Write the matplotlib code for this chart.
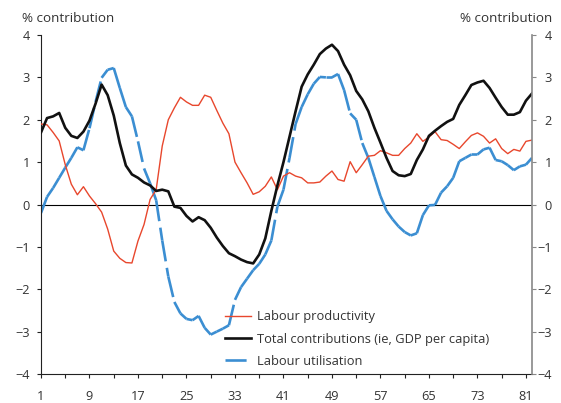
import numpy as np
import matplotlib
matplotlib.use('Agg')
import matplotlib.pyplot as plt
from matplotlib.collections import LineCollection
from matplotlib.lines import Line2D

plt.rcParams['font.family'] = ['Open Sans', 'DejaVu Sans']

quarters = np.arange(1, 83)

productivity = [1.90, 1.88, 1.70, 1.50, 0.94, 0.48, 0.23, 0.42, 0.20, 0.02,
                -0.18, -0.58, -1.10, -1.27, -1.37, -1.38, -0.86, -0.47, 0.12, 0.35,
                1.38, 2.00, 2.28, 2.53, 2.42, 2.34, 2.34, 2.58, 2.53, 2.22,
                1.92, 1.67, 1.00, 0.75, 0.51, 0.24, 0.30, 0.43, 0.65, 0.35,
                0.67, 0.75, 0.67, 0.63, 0.51, 0.51, 0.53, 0.67, 0.79, 0.59,
                0.55, 1.01, 0.75, 0.94, 1.14, 1.16, 1.27, 1.22, 1.16, 1.16,
                1.32, 1.45, 1.67, 1.49, 1.59, 1.72, 1.53, 1.51, 1.42, 1.32,
                1.48, 1.63, 1.69, 1.61, 1.45, 1.55, 1.32, 1.20, 1.30, 1.26,
                1.49, 1.52]

total = [1.70, 2.04, 2.08, 2.16, 1.81, 1.62, 1.57, 1.72, 1.98, 2.38,
         2.83, 2.58, 2.10, 1.45, 0.92, 0.71, 0.63, 0.52, 0.45, 0.32,
         0.35, 0.31, -0.05, -0.08, -0.27, -0.40, -0.30, -0.37, -0.55, -0.78,
         -0.98, -1.15, -1.22, -1.30, -1.36, -1.39, -1.18, -0.80, -0.15, 0.45,
         1.00, 1.60, 2.20, 2.78, 3.07, 3.30, 3.55, 3.68, 3.77, 3.62,
         3.30, 3.05, 2.68, 2.48, 2.20, 1.81, 1.46, 1.10, 0.79, 0.69,
         0.67, 0.72, 1.05, 1.30, 1.62, 1.74, 1.85, 1.95, 2.02, 2.35,
         2.58, 2.82, 2.88, 2.92, 2.75, 2.52, 2.30, 2.12, 2.12, 2.18,
         2.45, 2.62]

utilisation = [-0.20, 0.18, 0.39, 0.63, 0.87, 1.10, 1.35, 1.28, 1.80, 2.42,
               2.99, 3.18, 3.22, 2.75, 2.30, 2.08, 1.49, 0.85, 0.50, 0.10,
               -0.85, -1.70, -2.30, -2.57, -2.70, -2.73, -2.63, -2.91, -3.07, -3.00,
               -2.93, -2.85, -2.25, -1.95, -1.75, -1.55, -1.40, -1.18, -0.85, -0.05,
               0.35, 1.10, 1.90, 2.30, 2.60, 2.85, 3.01, 3.00, 3.00, 3.08,
               2.70, 2.15, 2.00, 1.45, 1.10, 0.65, 0.20, -0.15, -0.35, -0.52,
               -0.65, -0.73, -0.68, -0.25, -0.02, -0.01, 0.28, 0.43, 0.63, 1.02,
               1.10, 1.18, 1.18, 1.30, 1.34, 1.05, 1.02, 0.93, 0.81, 0.90,
               0.94, 1.10]

labels = ['Labour productivity', 'Total contributions (ie, GDP per capita)',
          'Labour utilisation']

RED = '#e8472d'
BLUE = '#3b8ed2'
TXT = '#333333'
px = 72 / 100


def main():
    fig = plt.figure(figsize=(5.61, 4.03), dpi=100)
    ax = fig.add_axes([41 / 561, 29 / 403, 491 / 561, 339 / 403])

    ax.axhline(0, color='black', lw=0.8, zorder=1)
    ax.plot(quarters, productivity, color=RED, lw=1.0, zorder=3)
    ax.plot(quarters, total, color='#111111', lw=1.9, zorder=4)

    # each segment starts its own dash pattern (like the original)
    pts = np.column_stack([quarters, utilisation])
    segs = np.stack([pts[:-1], pts[1:]], axis=1)
    lc = LineCollection(segs, colors=BLUE, linewidths=1.9,
                        linestyles=[(0, (8, 2.5))], zorder=2)
    ax.add_collection(lc)

    ax.set_xlim(1, 82)
    ax.set_ylim(-4, 4)
    ax.set_xticks(np.arange(1, 82, 4))
    ax.set_xticklabels([str(q) if (q - 1) % 8 == 0 else '' for q in range(1, 82, 4)])
    ax.set_yticks(range(-4, 5))

    for s in ['top', 'right']:
        ax.spines[s].set_visible(False)
    ax.spines['left'].set_color('#222222')
    ax.spines['bottom'].set_color('#222222')
    ax.tick_params(direction='out', length=4 * px, width=0.8,
                   color='#222222', labelsize=9.2, labelcolor=TXT)
    ax.tick_params(axis='x', pad=8.5)
    ax.tick_params(axis='y', pad=5)

    ax2 = ax.twinx()
    ax2.set_ylim(-4, 4)
    ax2.set_yticks(range(-4, 5))
    for s in ['top', 'left', 'bottom']:
        ax2.spines[s].set_visible(False)
    ax2.spines['right'].set_color('#888888')
    ax2.spines['right'].set_linewidth(1.2)
    ax2.tick_params(direction='out', length=4 * px, width=0.8,
                    color='#888888', labelsize=9.2, labelcolor=TXT, pad=16 * px)
    for t in ax2.get_yticklabels():
        t.set_horizontalalignment('right')

    fig.text(22 / 561, 1 - 19 / 403, '% contribution', fontsize=9.7, color=TXT,
             ha='left', va='center')
    fig.text(552 / 561, 1 - 19 / 403, '% contribution', fontsize=9.7, color=TXT,
             ha='right', va='center')

    handles = [Line2D([], [], color=RED, lw=1.0),
               Line2D([], [], color='#111111', lw=1.9),
               Line2D([], [], color=BLUE, lw=1.9, linestyle=(0, (8, 2.5)))]
    ax.legend(handles, labels, loc='lower left', bbox_to_anchor=(0.375, 0.018),
              frameon=False, fontsize=9.3, handlelength=2.0, handletextpad=0.5,
              labelspacing=0.72, borderpad=0, borderaxespad=0,
              labelcolor=TXT)

    fig.savefig('out.png', dpi=100)


if __name__ == '__main__':
    main()
